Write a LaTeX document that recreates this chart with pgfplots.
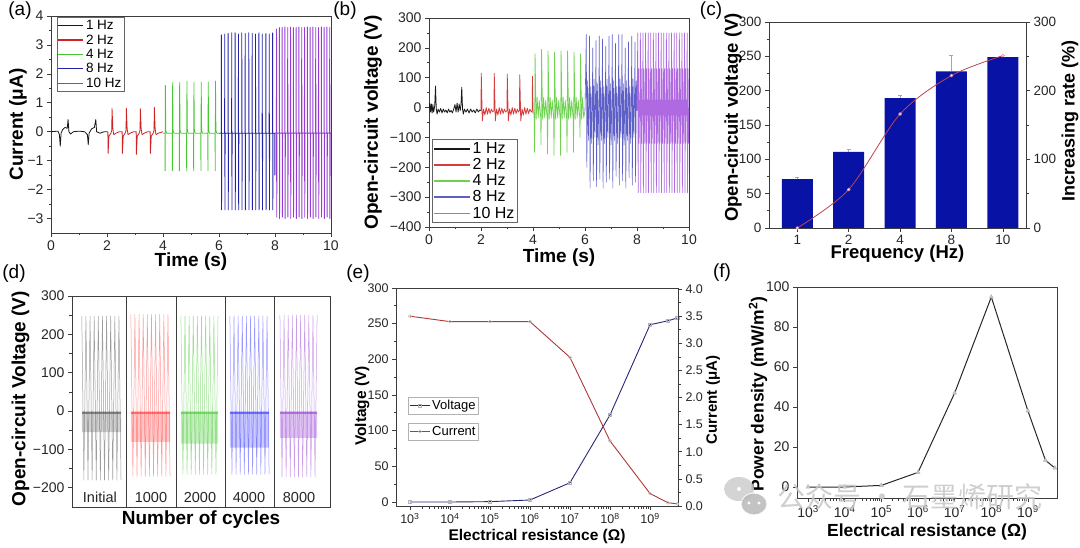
\documentclass[border=0pt]{standalone}
\usepackage{pgfplots}
\pgfplotsset{compat=1.18}
\usepackage{fontspec}
\setmainfont{Liberation Sans}
\newfontfamily\cjk{Noto Sans CJK SC}
\definecolor{cblack}{RGB}{25,25,25}
\definecolor{cred}{RGB}{205,35,35}
\definecolor{cgreen}{RGB}{70,200,50}
\definecolor{cblue}{RGB}{35,35,170}
\definecolor{cpurple}{RGB}{150,60,210}
\definecolor{bred}{RGB}{215,60,60}
\definecolor{bgreen}{RGB}{110,210,80}
\definecolor{bblue}{RGB}{95,95,200}
\definecolor{bpurple}{RGB}{175,105,225}
\definecolor{barblue}{RGB}{8,18,165}
\definecolor{linered}{RGB}{185,70,80}
\definecolor{navy}{RGB}{40,40,120}
\definecolor{ered}{RGB}{175,55,55}
\definecolor{axgray}{RGB}{60,60,60}
\newcommand{\fs}[1]{\fontsize{#1}{#1}\selectfont}
\pgfplotsset{
  every axis plot/.append style={line join=round},
  myax/.style={scale only axis, anchor=south west, tick align=outside, tick pos=left,
    axis line style={axgray, line width=0.8pt},
    every tick/.style={axgray, line width=0.7pt},
    major tick length=4pt, minor tick length=2.5pt,
    /pgf/number format/assume math mode=true,
    tick label style={font=\fs{14}, text=black!85},
    label style={font=\bfseries\fs{19}},
    legend cell align=left},
  twin/.style={axis x line=none, axis y line*=right, ytick pos=right, yticklabel pos=right},
}
\begin{document}
\begin{tikzpicture}[x=1pt,y=1pt]
\path (0,0) rectangle (1080,547);
% ---------------- (a)
\begin{axis}[myax, at={(51pt,314pt)}, width=280pt, height=217pt,
  xmin=0, xmax=10, ymin=-3.5, ymax=4,
  xtick={0,2,4,6,8,10}, ytick={-3,-2,-1,0,1,2,3,4},
  yticklabels={−3,−2,−1,0,1,2,3,4},
  minor x tick num=1, minor y tick num=1,
  xlabel={Time (s)}, ylabel={Current (μA)},
  xlabel style={at={(axis description cs:0.5,-0.134)}, anchor=center},
  ylabel style={at={(axis description cs:-0.118,0.5)}, anchor=center},
  legend style={at={(axis description cs:0.02,0.995)}, anchor=north west, font=\fs{13.5}, draw=black!60, inner sep=1pt, row sep=-0.5pt},
  legend image code/.code={\draw[#1, line width=1.2pt] (0pt,0pt) -- (25pt,0pt);}]
\addplot[cblack, line width=0.8pt] coordinates {(0,0)(0.25,0.02)(0.3,-0.1)(0.33,-0.5)(0.36,-0.05)(0.42,0.08)(0.5,0.15)(0.58,0.12)(0.61,0.42)(0.64,0.0)(0.7,-0.08)(0.8,0.0)(1.0,0.02)(1.2,0.0)(1.3,-0.1)(1.33,-0.45)(1.36,-0.05)(1.45,0.1)(1.55,0.15)(1.6,0.42)(1.63,0.0)(1.75,-0.05)(1.9,0)(2.0,0)};
\addlegendentry{1 Hz}
\addplot[cred, line width=0.8pt] coordinates {(2.0,0)(2.03,0)(2.04,-0.75)(2.07,-0.15)(2.14,-0.05)(2.17,0.05)(2.18,0.8)(2.21,0.1)(2.24,-0.1)(2.32,-0.05)(2.44,0)
(2.54,0)(2.55,-0.75)(2.58,-0.15)(2.65,-0.05)(2.68,0.05)(2.69,0.82)(2.72,0.1)(2.75,-0.1)(2.83,-0.05)(2.95,0)
(3.04,0)(3.05,-0.78)(3.08,-0.15)(3.15,-0.05)(3.18,0.05)(3.19,0.8)(3.22,0.1)(3.25,-0.1)(3.33,-0.05)(3.45,0)
(3.54,0)(3.55,-0.75)(3.58,-0.15)(3.65,-0.05)(3.68,0.05)(3.69,0.85)(3.72,0.1)(3.75,-0.1)(3.83,-0.05)(4.0,0)};
\addlegendentry{2 Hz}
\addplot[cgreen, line width=0.8pt] coordinates {(4.0,-0.05)
(4.07,-0.05)(4.075,-1.35)(4.085,1.6)(4.1,0.05)(4.13,-0.05)
(4.33,-0.05)(4.335,-1.35)(4.345,1.7)(4.36,0.05)(4.39,-0.05)
(4.58,-0.05)(4.585,-1.35)(4.595,1.7)(4.61,0.05)(4.64,-0.05)
(4.84,-0.05)(4.845,-1.35)(4.855,1.75)(4.87,0.05)(4.9,-0.05)
(5.09,-0.05)(5.095,-1.35)(5.105,1.7)(5.12,0.05)(5.15,-0.05)
(5.35,-0.05)(5.355,-1.35)(5.365,1.72)(5.38,0.05)(5.41,-0.05)
(5.60,-0.05)(5.605,-1.35)(5.615,1.72)(5.63,0.05)(5.66,-0.05)
(5.86,-0.05)(5.865,-1.35)(5.875,1.75)(5.89,0.05)(5.92,-0.05)(6.0,-0.05)};
\addlegendentry{4 Hz}
\addplot[cblue, line width=0.8pt] coordinates {(6.0,-0.05)
(6.08,-0.05)(6.085,3.35)(6.092,-2.7)(6.1,-0.05)
(6.20,-0.05)(6.205,3.38)(6.212,-2.7)(6.22,-0.05)
(6.32,-0.05)(6.325,3.4)(6.332,-2.7)(6.34,-0.05)
(6.45,-0.05)(6.455,3.42)(6.462,-2.7)(6.47,-0.05)
(6.57,-0.05)(6.575,3.42)(6.582,-2.7)(6.59,-0.05)
(6.69,-0.05)(6.695,3.38)(6.702,-2.7)(6.71,-0.05)
(6.81,-0.05)(6.815,3.42)(6.822,-2.7)(6.83,-0.05)
(6.93,-0.05)(6.935,3.4)(6.942,-2.7)(6.95,-0.05)
(7.06,-0.05)(7.065,3.42)(7.072,-2.7)(7.08,-0.05)
(7.18,-0.05)(7.185,3.4)(7.192,-2.7)(7.2,-0.05)
(7.30,-0.05)(7.305,3.38)(7.312,-2.7)(7.32,-0.05)
(7.42,-0.05)(7.425,3.42)(7.432,-2.7)(7.44,-0.05)
(7.54,-0.05)(7.545,3.38)(7.552,-2.7)(7.56,-0.05)
(7.67,-0.05)(7.675,3.4)(7.682,-2.7)(7.69,-0.05)
(7.79,-0.05)(7.795,3.38)(7.802,-2.7)(7.81,-0.05)
(7.91,-0.05)(7.915,3.42)(7.922,-2.7)(7.93,-0.05)
(7.99,-0.05)(7.995,-1.5)(8.0,-0.05)};
\addlegendentry{8 Hz}
\addplot[cpurple, line width=0.9pt] coordinates {(8.0,-0.05)
(8.05,-0.05)(8.055,3.55)(8.062,-2.95)(8.07,-0.05)
(8.15,-0.05)(8.155,3.6)(8.162,-3.0)(8.17,-0.05)
(8.25,-0.05)(8.255,3.6)(8.262,-2.95)(8.27,-0.05)
(8.35,-0.05)(8.355,3.62)(8.362,-3.0)(8.37,-0.05)
(8.45,-0.05)(8.455,3.6)(8.462,-2.95)(8.47,-0.05)
(8.55,-0.05)(8.555,3.62)(8.562,-3.0)(8.57,-0.05)
(8.65,-0.05)(8.655,3.6)(8.662,-2.95)(8.67,-0.05)
(8.75,-0.05)(8.755,3.6)(8.762,-3.0)(8.77,-0.05)
(8.85,-0.05)(8.855,3.62)(8.862,-2.95)(8.87,-0.05)
(8.95,-0.05)(8.955,3.6)(8.962,-3.0)(8.97,-0.05)
(9.05,-0.05)(9.055,3.6)(9.062,-2.95)(9.07,-0.05)
(9.15,-0.05)(9.155,3.62)(9.162,-3.0)(9.17,-0.05)
(9.25,-0.05)(9.255,3.6)(9.262,-2.95)(9.27,-0.05)
(9.35,-0.05)(9.355,3.62)(9.362,-3.0)(9.37,-0.05)
(9.45,-0.05)(9.455,3.6)(9.462,-2.95)(9.47,-0.05)
(9.55,-0.05)(9.555,3.6)(9.562,-3.0)(9.57,-0.05)
(9.65,-0.05)(9.655,3.62)(9.662,-2.95)(9.67,-0.05)
(9.75,-0.05)(9.755,3.6)(9.762,-3.0)(9.77,-0.05)
(9.85,-0.05)(9.855,3.62)(9.862,-2.95)(9.87,-0.05)
(9.95,-0.05)(9.955,3.6)(9.962,-3.0)(9.97,-0.05)(10,-0.05)};
\addlegendentry{10 Hz}
\end{axis}
% ---------------- (b)
\begin{axis}[myax, at={(429pt,320pt)}, width=260pt, height=209pt,
  xmin=0, xmax=10, ymin=-400, ymax=300,
  xtick={0,2,4,6,8,10}, ytick={-400,-300,-200,-100,0,100,200,300},
  yticklabels={−400,−300,−200,−100,0,100,200,300},
  minor x tick num=1, minor y tick num=1,
  xlabel={Time (s)}, ylabel={Open-circuit voltage (V)},
  xlabel style={at={(axis description cs:0.5,-0.144)}, anchor=center},
  ylabel style={at={(axis description cs:-0.215,0.5)}, anchor=center},
  legend style={at={(axis description cs:0.012,0.02)}, anchor=south west, font=\fs{16}, draw=black!60, inner sep=1pt, row sep=-0.5pt},
  legend image code/.code={\draw[#1, line width=1.4pt] (0pt,0pt) -- (36pt,0pt);}]
\addplot[cblack, line width=0.8pt] coordinates {(0,-5)(0.03,15)(0.06,-15)(0.09,12)(0.12,-18)(0.15,10)(0.18,-15)(0.22,5)(0.25,72)(0.28,-5)(0.31,-22)(0.35,-5)(0.4,-15)(0.45,-3)(0.5,-18)(0.55,-5)(0.6,-15)(0.65,-8)(0.7,-18)(0.75,-5)(0.8,-15)(0.85,-10)(0.9,-18)(0.95,-5)(1.0,10)(1.04,-15)(1.08,15)(1.12,-15)(1.16,12)(1.2,-10)(1.23,8)(1.26,68)(1.29,-5)(1.32,-22)(1.36,-5)(1.42,-15)(1.48,-5)(1.54,-18)(1.6,-5)(1.66,-15)(1.72,-8)(1.78,-18)(1.84,-5)(1.9,-15)(1.95,-8)(2.0,-10)};
\addlegendentry{1 Hz}
\addplot[bred, line width=0.8pt] coordinates {(2.0,-10)(2.01,115)(2.05,-45)(2.1,-5)(2.15,-25)(2.2,0)(2.25,-22)(2.3,-2)(2.35,-20)(2.4,-5)(2.45,-15)
(2.5,-10)(2.51,115)(2.55,-45)(2.6,-5)(2.65,-25)(2.7,0)(2.75,-22)(2.8,-2)(2.85,-20)(2.9,-5)(2.95,-15)
(3.0,-10)(3.01,112)(3.05,-45)(3.1,-5)(3.15,-25)(3.2,0)(3.25,-22)(3.3,-2)(3.35,-20)(3.4,-5)(3.44,-15)
(3.48,-10)(3.49,110)(3.53,-45)(3.58,-5)(3.63,-25)(3.68,0)(3.73,-22)(3.78,-2)(3.83,-20)(3.88,-5)(3.93,-15)
(3.97,-10)(3.98,105)(4.0,-20)};
\addlegendentry{2 Hz}
\addplot[bgreen, line width=0.7pt] coordinates {(4.0,-10)
(4.04,-20)(4.06,-150)(4.08,180)(4.12,-40)(4.16,35)(4.2,-35)(4.24,25)(4.28,-25)
(4.29,-20)(4.31,-125)(4.33,195)(4.37,-40)(4.41,35)(4.45,-35)(4.49,25)(4.53,-25)
(4.54,-20)(4.56,-155)(4.58,190)(4.62,-40)(4.66,35)(4.7,-35)(4.74,25)(4.78,-25)
(4.79,-20)(4.81,-160)(4.83,185)(4.87,-40)(4.91,35)(4.95,-35)(4.99,25)(5.03,-25)
(5.04,-20)(5.06,-160)(5.08,190)(5.12,-40)(5.16,35)(5.2,-35)(5.24,25)(5.28,-25)
(5.29,-20)(5.31,-150)(5.33,190)(5.37,-40)(5.41,35)(5.45,-35)(5.49,25)(5.53,-25)
(5.54,-20)(5.56,-150)(5.58,185)(5.62,-40)(5.66,35)(5.7,-35)(5.74,25)(5.78,-25)
(5.79,-20)(5.81,-100)(5.83,180)(5.87,-40)(5.91,35)(5.95,-35)(6.0,-10)};
\addlegendentry{4 Hz}
\addplot[bblue, line width=0.6pt] coordinates {(6.0,-10)
(6.05,245)(6.07,-200)(6.1,90)(6.13,-110)(6.155,40)
(6.175,240)(6.195,-270)(6.225,70)(6.255,-120)(6.28,30)
(6.3,200)(6.32,-245)(6.35,95)(6.38,-100)(6.405,40)
(6.425,225)(6.445,-265)(6.475,80)(6.505,-125)(6.53,20)
(6.55,240)(6.57,-240)(6.6,90)(6.63,-110)(6.655,40)
(6.675,230)(6.695,-270)(6.725,70)(6.755,-120)(6.78,30)
(6.8,205)(6.82,-250)(6.85,95)(6.88,-100)(6.905,40)
(6.925,240)(6.945,-240)(6.975,80)(7.005,-125)(7.03,20)
(7.05,245)(7.07,-270)(7.1,90)(7.13,-110)(7.155,40)
(7.175,215)(7.195,-230)(7.225,70)(7.255,-120)(7.28,30)
(7.3,245)(7.32,-260)(7.35,95)(7.38,-100)(7.405,40)
(7.425,245)(7.445,-245)(7.475,80)(7.505,-125)(7.53,20)
(7.55,200)(7.57,-270)(7.6,90)(7.63,-110)(7.655,40)
(7.675,220)(7.695,-235)(7.725,70)(7.755,-120)(7.78,30)
(7.8,240)(7.82,-260)(7.85,95)(7.88,-100)(7.905,40)
(7.925,220)(7.945,-250)(7.975,90)(8.0,-10)};
\addlegendentry{8 Hz}
\addplot[bpurple, line width=0.7pt] coordinates {(8.0,-10)
(8.03,250)(8.045,-285)(8.065,130)(8.08,-120)(8.1,25)(8.115,-25)
(8.13,250)(8.145,-285)(8.165,130)(8.18,-120)(8.2,25)(8.215,-25)
(8.23,250)(8.245,-285)(8.265,130)(8.28,-120)(8.3,25)(8.315,-25)
(8.33,250)(8.345,-285)(8.365,130)(8.38,-120)(8.4,25)(8.415,-25)
(8.43,250)(8.445,-285)(8.465,130)(8.48,-120)(8.5,25)(8.515,-25)
(8.53,250)(8.545,-285)(8.565,130)(8.58,-120)(8.6,25)(8.615,-25)
(8.63,250)(8.645,-285)(8.665,130)(8.68,-120)(8.7,25)(8.715,-25)
(8.73,250)(8.745,-285)(8.765,130)(8.78,-120)(8.8,25)(8.815,-25)
(8.83,250)(8.845,-285)(8.865,130)(8.88,-120)(8.9,25)(8.915,-25)
(8.93,250)(8.945,-285)(8.965,130)(8.98,-120)(9.0,25)(9.015,-25)
(9.03,250)(9.045,-285)(9.065,130)(9.08,-120)(9.1,25)(9.115,-25)
(9.13,250)(9.145,-285)(9.165,130)(9.18,-120)(9.2,25)(9.215,-25)
(9.23,250)(9.245,-285)(9.265,130)(9.28,-120)(9.3,25)(9.315,-25)
(9.33,250)(9.345,-285)(9.365,130)(9.38,-120)(9.4,25)(9.415,-25)
(9.43,250)(9.445,-285)(9.465,130)(9.48,-120)(9.5,25)(9.515,-25)
(9.53,250)(9.545,-285)(9.565,130)(9.58,-120)(9.6,25)(9.615,-25)
(9.63,250)(9.645,-285)(9.665,130)(9.68,-120)(9.7,25)(9.715,-25)
(9.73,250)(9.745,-285)(9.765,130)(9.78,-120)(9.8,25)(9.815,-25)
(9.83,250)(9.845,-285)(9.865,130)(9.88,-120)(9.9,25)(9.915,-25)
(9.93,250)(9.945,-285)(9.965,130)(9.98,-120)(10,0)};
\addlegendentry{10 Hz}
\end{axis}
% ---------------- (c)
\begin{axis}[myax, at={(769pt,319pt)}, width=257pt, height=206pt,
  xmin=-0.55, xmax=4.45, ymin=0, ymax=300,
  xtick={0,1,2,3,4}, xticklabels={1,2,4,8,10},
  ytick={0,50,100,150,200,250,300}, minor y tick num=1,
  tick label style={font=\fs{13.5}},
  label style={font=\bfseries\fs{18.5}},
  xlabel={Frequency (Hz)}, ylabel={Open-circuit voltage (V)},
  xlabel style={at={(axis description cs:0.5,-0.125)}, anchor=center},
  ylabel style={at={(axis description cs:-0.14,0.536)}, anchor=center}]
\addplot[ybar, bar width=31pt, fill=barblue, draw=none,
  error bars/.cd, y dir=plus, y explicit, error bar style={gray!70, line width=0.6pt}, error mark options={gray!70, rotate=90, mark size=2pt}]
  coordinates {(0,71) +- (0,3) (1,111) +- (0,4) (2,189) +- (0,5) (3,228) +- (0,24) (4,249) +- (0,2)};
\end{axis}
\begin{axis}[myax, twin, at={(769pt,319pt)}, width=257pt, height=206pt,
  xmin=-0.55, xmax=4.45, ymin=0, ymax=300,
  ytick={0,100,200,300}, minor y tick num=1,
  tick label style={font=\fs{13.5}},
  label style={font=\bfseries\fs{18}},
  ylabel={Increasing rate (\%)},
  ylabel style={at={(axis description cs:1.171,0.52)}, anchor=center}]
\addplot[smooth, linered, line width=0.8pt, mark=*, mark size=1.4pt, mark options={fill=white, draw=pink!80!violet}]
  coordinates {(0,0)(1,56)(2,166)(3,222)(4,251)};
\end{axis}
% ---------------- (d)
\begin{axis}[myax, at={(72pt,40pt)}, width=258pt, height=211pt,
  xmin=0, xmax=5, ymin=-250, ymax=300, xtick=\empty,
  ytick={-200,-100,0,100,200,300}, yticklabels={−200,−100,0,100,200,300}, minor y tick num=1,
  xlabel={Number of cycles}, ylabel={Open-circuit Voltage (V)},
  xlabel style={at={(axis description cs:0.5,-0.062)}, anchor=center},
  ylabel style={at={(axis description cs:-0.2,0.514)}, anchor=center}]
\addplot[fill=black!60, draw=none, opacity=0.3] coordinates {(0.19,0)(0.95,0)(0.95,-55)(0.19,-55)(0.19,0)};
\addplot[fill=red!70, draw=none, opacity=0.3] coordinates {(1.14,0)(1.90,0)(1.90,-80)(1.14,-80)(1.14,0)};
\addplot[fill=cgreen, draw=none, opacity=0.3] coordinates {(2.11,0)(2.83,0)(2.83,-85)(2.11,-85)(2.11,0)};
\addplot[fill=blue!70, draw=none, opacity=0.3] coordinates {(3.06,0)(3.82,0)(3.82,-95)(3.06,-95)(3.06,0)};
\addplot[fill=cpurple, draw=none, opacity=0.3] coordinates {(4.03,0)(4.75,0)(4.75,-70)(4.03,-70)(4.03,0)};
\addplot[black!70, line width=0.5pt, opacity=0.55] coordinates {(0.19,248)(0.23,-180)(0.27,248)(0.31,-180)(0.35,248)(0.39,-180)(0.43,248)(0.47,-180)(0.51,248)(0.55,-180)(0.59,248)(0.63,-180)(0.67,248)(0.71,-180)(0.75,248)(0.79,-180)(0.83,248)(0.87,-180)(0.91,248)(0.95,-180)};
\addplot[red!80, line width=0.5pt, opacity=0.5] coordinates {(1.14,252)(1.18,-170)(1.22,252)(1.26,-170)(1.30,252)(1.34,-170)(1.38,252)(1.42,-170)(1.46,252)(1.50,-170)(1.54,252)(1.58,-170)(1.62,252)(1.66,-170)(1.70,252)(1.74,-170)(1.78,252)(1.82,-170)(1.86,252)(1.90,-170)};
\addplot[cgreen, line width=0.5pt, opacity=0.55] coordinates {(2.11,248)(2.15,-165)(2.19,248)(2.23,-165)(2.27,248)(2.31,-165)(2.35,248)(2.39,-165)(2.43,248)(2.47,-165)(2.51,248)(2.55,-165)(2.59,248)(2.63,-165)(2.67,248)(2.71,-165)(2.75,248)(2.79,-165)(2.83,248)};
\addplot[blue!80, line width=0.5pt, opacity=0.5] coordinates {(3.06,248)(3.10,-165)(3.14,248)(3.18,-165)(3.22,248)(3.26,-165)(3.30,248)(3.34,-165)(3.38,248)(3.42,-165)(3.46,248)(3.50,-165)(3.54,248)(3.58,-165)(3.62,248)(3.66,-165)(3.70,248)(3.74,-165)(3.78,248)(3.82,-165)};
\addplot[cpurple, line width=0.5pt, opacity=0.5] coordinates {(4.03,250)(4.07,-172)(4.11,250)(4.15,-172)(4.19,250)(4.23,-172)(4.27,250)(4.31,-172)(4.35,250)(4.39,-172)(4.43,250)(4.47,-172)(4.51,250)(4.55,-172)(4.59,250)(4.63,-172)(4.67,250)(4.71,-172)(4.75,250)};
\addplot[black!70, line width=1.5pt, opacity=0.6] coordinates {(0.19,-5)(0.95,-5)};
\addplot[red!80, line width=1.5pt, opacity=0.6] coordinates {(1.14,-5)(1.90,-5)};
\addplot[cgreen, line width=1.5pt, opacity=0.6] coordinates {(2.11,-5)(2.83,-5)};
\addplot[blue!80, line width=1.5pt, opacity=0.6] coordinates {(3.06,-5)(3.82,-5)};
\addplot[cpurple, line width=1.5pt, opacity=0.6] coordinates {(4.03,-5)(4.75,-5)};
\addplot[axgray, line width=0.8pt] coordinates {(1.05,-250)(1.05,300)};
\addplot[axgray, line width=0.8pt] coordinates {(2.02,-250)(2.02,300)};
\addplot[axgray, line width=0.8pt] coordinates {(2.98,-250)(2.98,300)};
\addplot[axgray, line width=0.8pt] coordinates {(3.93,-250)(3.93,300)};
\node[font=\fs{14.5}, text=black!85] at (axis cs:0.54,-225) {Initial};
\node[font=\fs{14.5}, text=black!85] at (axis cs:1.53,-225) {1000};
\node[font=\fs{14.5}, text=black!85] at (axis cs:2.48,-225) {2000};
\node[font=\fs{14.5}, text=black!85] at (axis cs:3.43,-225) {4000};
\node[font=\fs{14.5}, text=black!85] at (axis cs:4.40,-225) {8000};
\end{axis}
% ---------------- (e)
\begin{axis}[myax, at={(396pt,41pt)}, width=282pt, height=218pt,
  xmode=log, xmin=450, xmax=5e9, ymin=-5.6, ymax=300,
  xtick={1e3,1e4,1e5,1e6,1e7,1e8,1e9},
  xticklabels={10\textsuperscript{3},10\textsuperscript{4},10\textsuperscript{5},10\textsuperscript{6},10\textsuperscript{7},10\textsuperscript{8},10\textsuperscript{9}},
  ytick={0,50,100,150,200,250,300}, minor y tick num=1,
  tick label style={font=\fs{12.5}},
  label style={font=\bfseries\fs{15.5}},
  xlabel={Electrical resistance (Ω)}, ylabel={Voltage (V)},
  xlabel style={at={(axis description cs:0.5,-0.138)}, anchor=center},
  ylabel style={at={(axis description cs:-0.12,0.459)}, anchor=center},
  legend style={at={(axis description cs:0.043,0.5)}, anchor=north west, font=\fs{13}, draw=black!30, inner sep=1pt},
  legend image code/.code={\draw[#1] (0pt,0pt) -- (10pt,0pt) plot coordinates {(10pt,0pt)} -- (20pt,0pt);}]
\addplot[navy, line width=0.9pt, mark=square, mark size=1.6pt, mark options={draw=gray!60, fill=white, line width=0.5pt}]
  coordinates {(1e3,0)(1e4,0)(1e5,0.5)(1e6,2.8)(1e7,27)(1e8,122)(1e9,248.5)(2.8e9,254)(4.8e9,258)};
\addlegendentry{Voltage}
\end{axis}
\begin{axis}[myax, twin, at={(396pt,41pt)}, width=282pt, height=218pt,
  xmode=log, xmin=450, xmax=5e9, ymin=0, ymax=4.02,
  ytick={0,0.5,1,1.5,2,2.5,3,3.5,4}, minor y tick num=1,
  yticklabel style={/pgf/number format/.cd, fixed, fixed zerofill, precision=1},
  tick label style={font=\fs{12.5}},
  label style={font=\bfseries\fs{15}},
  ylabel={Current (μA)},
  ylabel style={at={(axis description cs:1.124,0.486)}, anchor=center},
  legend style={at={(axis description cs:0.043,0.381)}, anchor=north west, font=\fs{13}, draw=black!30, inner sep=1pt},
  legend image code/.code={\draw[#1] (0pt,0pt) -- (10pt,0pt) plot coordinates {(10pt,0pt)} -- (20pt,0pt);}]
\addplot[ered, line width=0.9pt, mark=o, mark size=1.6pt, mark options={draw=gray!50, fill=white, line width=0.5pt}]
  coordinates {(1e3,3.5)(1e4,3.4)(1e5,3.4)(1e6,3.4)(1e7,2.74)(1e8,1.2)(1e9,0.23)(2.8e9,0.06)(4.8e9,0.04)};
\addlegendentry{Current}
\end{axis}
% ---------------- (f)
\begin{axis}[myax, at={(797pt,49pt)}, width=260pt, height=211pt,
  xmode=log, xmin=500, xmax=6.2e9, ymin=-5.5, ymax=100,
  xtick={1e3,1e4,1e5,1e6,1e7,1e8,1e9},
  xticklabels={10\textsuperscript{3},10\textsuperscript{4},10\textsuperscript{5},10\textsuperscript{6},10\textsuperscript{7},10\textsuperscript{8},10\textsuperscript{9}},
  ytick={0,20,40,60,80,100},
  tick label style={font=\fs{14}},
  label style={font=\bfseries\fs{17.5}},
  xlabel={Electrical resistance (Ω)}, ylabel={Power density (mW/m\textsuperscript{2})},
  xlabel style={at={(axis description cs:0.5,-0.161)}, anchor=center},
  ylabel style={at={(axis description cs:-0.15,0.493)}, anchor=center}]
\addplot[black!85, line width=1pt, mark=triangle*, mark size=2.4pt, mark options={fill=gray!45, draw=gray!60, line width=0.4pt}]
  coordinates {(1e3,0)(1e4,0)(1e5,0.8)(1e6,7.3)(1e7,47)(1e8,95)(1e9,38)(3e9,13.4)(5.4e9,9.5)};
\end{axis}
% ---------------- panel letters
\node[font=\fs{19}] at (20,536) {(a)};
\node[font=\fs{19}] at (345,536) {(b)};
\node[font=\fs{19}] at (711,536) {(c)};
\node[font=\fs{19}] at (14,273) {(d)};
\node[font=\fs{19}] at (358,273) {(e)};
\node[font=\fs{19}] at (722,274) {(f)};
% ---------------- watermark
\fill[gray!40, opacity=0.85] (739,58) ellipse (15 and 12);
\fill[white] (739,58) ellipse (2 and 2);
\fill[gray!55, opacity=0.85, draw=white, line width=1pt] (754,43) ellipse (13 and 11);
\fill[white] (749,44) circle (1.6); \fill[white] (759,44) circle (1.6);
\node[font=\cjk\fs{28}, text=gray!45, opacity=0.85] at (910,50) {公众号 · 石墨烯研究};
\pgfresetboundingbox
\useasboundingbox (0,0) rectangle (1080,547);
\end{tikzpicture}
\end{document}
